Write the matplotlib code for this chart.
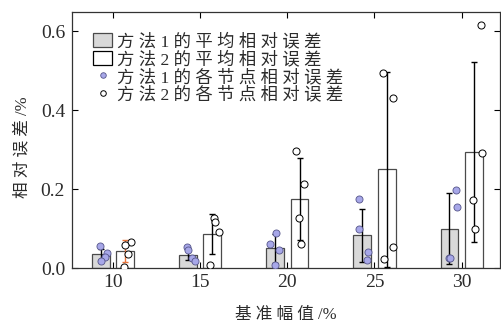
import matplotlib
matplotlib.use('Agg')
import matplotlib.pyplot as plt
from matplotlib.patches import Patch
from matplotlib.lines import Line2D
import numpy as np

plt.rcParams['font.family'] = ['Liberation Serif', 'Noto Sans CJK SC']
plt.rcParams['axes.unicode_minus'] = False

# benchmark amplitude (%)
amplitudes = [10, 15, 20, 25, 30]

# method 1 / method 2 mean relative error and error bar half-heights
mean_m1 = [0.035, 0.034, 0.050, 0.083, 0.100]
err_m1 = [0.014, 0.013, 0.037, 0.067, 0.090]
mean_m2 = [0.043, 0.086, 0.174, 0.251, 0.294]
err_m2 = [0.027, 0.051, 0.104, 0.247, 0.228]

# relative error of each node (4 nodes per amplitude)
nodes_m1 = [
    [0.056, 0.039, 0.028, 0.018],
    [0.054, 0.046, 0.025, 0.018],
    [0.090, 0.061, 0.046, 0.008],
    [0.174, 0.098, 0.041, 0.020],
    [0.199, 0.154, 0.025, 0.025],
]
nodes_m2 = [
    [0.065, 0.058, 0.035, 0.003],
    [0.128, 0.118, 0.092, 0.009],
    [0.297, 0.214, 0.126, 0.060],
    [0.495, 0.430, 0.054, 0.022],
    [0.615, 0.292, 0.172, 0.100],
]
# horizontal jitter of node markers relative to the bar centre
jitter_m1 = [
    [-0.06, 0.34, 0.23, 0.04],
    [-0.06, 0.0, 0.25, 0.43],
    [0.04, -0.30, 0.21, -0.02],
    [-0.21, -0.16, 0.33, 0.27],
    [0.38, 0.44, -0.04, 0.06],
]
jitter_m2 = [
    [0.34, 0.0, 0.19, -0.04],
    [0.07, 0.17, 0.40, -0.11],
    [-0.20, 0.26, -0.01, 0.07],
    [-0.19, 0.36, 0.36, -0.16],
    [0.40, 0.49, -0.02, 0.07],
]
errcolor_m2 = ['#e8743b', 'black', 'black', 'black', 'black']

labels = ['方 法 1 的 平 均 相 对 误 差', '方 法 2 的 平 均 相 对 误 差',
          '方 法 1 的 各 节 点 相 对 误 差', '方 法 2 的 各 节 点 相 对 误 差']
xlabel = '基 准 幅 值 /%'
ylabel = '相 对 误 差 /%'

GRAY = '#d9d9d9'
EDGE = '#4a4a4a'
BLUE = '#a7a7e8'
BLUE_EDGE = '#55558a'
TEXT = '#2b2b2b'

fig = plt.figure(figsize=(5.01, 3.31), dpi=100)
ax = fig.add_axes([0.1437, 0.190, 0.8543, 0.775])

x = np.array(amplitudes, dtype=float)
off = 0.7
width = 1.02

ax.bar(x - off, mean_m1, width, color=GRAY, edgecolor=EDGE, linewidth=0.9, zorder=2)
ax.bar(x + off, mean_m2, width, color='white', edgecolor=EDGE, linewidth=0.9, zorder=2)

ax.errorbar(x - off, mean_m1, yerr=err_m1, fmt='none', ecolor='black',
            elinewidth=1.0, capsize=2.2, capthick=1.0, zorder=3)
for i in range(len(x)):
    ax.errorbar(x[i] + off, mean_m2[i], yerr=err_m2[i], fmt='none',
                ecolor=errcolor_m2[i], elinewidth=1.0, capsize=2.2,
                capthick=1.0, zorder=3)

for i in range(len(x)):
    ax.scatter(x[i] - off + np.array(jitter_m1[i]), nodes_m1[i], s=26,
               facecolor=BLUE, edgecolor=BLUE_EDGE, linewidth=0.6, zorder=4)
    ax.scatter(x[i] + off + np.array(jitter_m2[i]), nodes_m2[i], s=26,
               facecolor='white', edgecolor='black', linewidth=0.7, zorder=4)

ax.set_xlim(7.65, 32.2)
ax.set_ylim(0, 0.65)
ax.set_xticks(amplitudes)
ax.set_yticks([0.0, 0.2, 0.4, 0.6])
ax.set_yticklabels(['0.0', '0.2', '0.4', '0.6'])
ax.tick_params(direction='in', length=4, width=0.8, labelsize=14,
               top=True, right=True, labelcolor=TEXT)
ax.tick_params(axis='y', pad=5)
ax.tick_params(axis='x', pad=4)
for sp in ax.spines.values():
    sp.set_linewidth(0.9)
    sp.set_color('#333333')

ax.set_xlabel(xlabel, fontsize=12, color=TEXT)
ax.set_ylabel(ylabel, fontsize=12, color=TEXT)
ax.xaxis.set_label_coords(0.5, -0.15)
ax.yaxis.set_label_coords(-0.098, 0.47)

handles = [
    Patch(facecolor=GRAY, edgecolor=EDGE, linewidth=0.9),
    Patch(facecolor='white', edgecolor='black', linewidth=0.9),
    Line2D([], [], linestyle='none', marker='o', markersize=4,
           markerfacecolor=BLUE, markeredgecolor=BLUE_EDGE, markeredgewidth=0.6),
    Line2D([], [], linestyle='none', marker='o', markersize=4,
           markerfacecolor='white', markeredgecolor='black', markeredgewidth=0.7),
]
leg = ax.legend(handles, labels, loc='upper left', bbox_to_anchor=(0.049, 0.915),
                frameon=False, fontsize=12.5, handlelength=1.1, handleheight=0.85,
                handletextpad=0.3, labelspacing=0.05, borderaxespad=0,
                borderpad=0)
for t in leg.get_texts():
    t.set_color(TEXT)

fig.savefig('out.png', dpi=100)
